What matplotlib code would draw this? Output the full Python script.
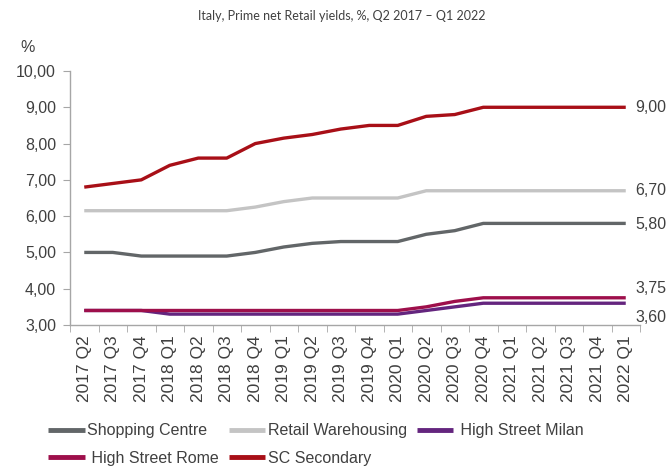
import matplotlib
matplotlib.use("Agg")
import matplotlib.pyplot as plt
from matplotlib.ticker import FuncFormatter, FixedLocator, NullFormatter

quarters = ["2017 Q2", "2017 Q3", "2017 Q4", "2018 Q1", "2018 Q2", "2018 Q3", "2018 Q4",
            "2019 Q1", "2019 Q2", "2019 Q3", "2019 Q4", "2020 Q1", "2020 Q2", "2020 Q3",
            "2020 Q4", "2021 Q1", "2021 Q2", "2021 Q3", "2021 Q4", "2022 Q1"]

shopping_centre = [5.0, 5.0, 4.9, 4.9, 4.9, 4.9, 5.0, 5.15, 5.25, 5.3, 5.3, 5.3, 5.5, 5.6,
                   5.8, 5.8, 5.8, 5.8, 5.8, 5.8]
retail_warehousing = [6.15, 6.15, 6.15, 6.15, 6.15, 6.15, 6.25, 6.4, 6.5, 6.5, 6.5, 6.5, 6.7, 6.7,
                      6.7, 6.7, 6.7, 6.7, 6.7, 6.7]
high_street_milan = [3.4, 3.4, 3.4, 3.3, 3.3, 3.3, 3.3, 3.3, 3.3, 3.3, 3.3, 3.3, 3.4, 3.5,
                     3.6, 3.6, 3.6, 3.6, 3.6, 3.6]
high_street_rome = [3.4, 3.4, 3.4, 3.4, 3.4, 3.4, 3.4, 3.4, 3.4, 3.4, 3.4, 3.4, 3.5, 3.65,
                    3.75, 3.75, 3.75, 3.75, 3.75, 3.75]
sc_secondary = [6.8, 6.9, 7.0, 7.4, 7.6, 7.6, 8.0, 8.15, 8.25, 8.4, 8.5, 8.5, 8.75, 8.8,
                9.0, 9.0, 9.0, 9.0, 9.0, 9.0]

series = [
    ("Shopping Centre", shopping_centre, "#626668"),
    ("Retail Warehousing", retail_warehousing, "#c4c4c4"),
    ("High Street Milan", high_street_milan, "#64257e"),
    ("High Street Rome", high_street_rome, "#9e0f4b"),
    ("SC Secondary", sc_secondary, "#a80f17"),
]
# legend label text as shown (some have a leading space in the original)
legend_text = {"Shopping Centre": "Shopping Centre", "Retail Warehousing": "Retail Warehousing",
               "High Street Milan": " High Street Milan", "High Street Rome": " High Street Rome",
               "SC Secondary": "SC Secondary"}
# end-label vertical offsets (points)
end_offsets = {"SC Secondary": 0, "Retail Warehousing": 0, "Shopping Centre": -1,
               "High Street Rome": 7, "High Street Milan": -10}

plt.rcParams['font.family'] = ['Liberation Sans', 'DejaVu Sans']
text_col = "#404040"

fig = plt.figure(figsize=(6.69, 4.68), dpi=100)
ax = fig.add_axes([70/669, 1-325/468, 570/669, 254/468])

x = list(range(len(quarters)))
handles = {}
for name, vals, col in series:
    h, = ax.plot(x, vals, color=col, lw=2.4, solid_capstyle='butt', label=name)
    handles[name] = h
    ax.annotate(f"{vals[-1]:.2f}".replace(".", ","), xy=(x[-1], vals[-1]),
                xytext=(7, end_offsets[name]), textcoords="offset points",
                ha="left", va="center", fontsize=11.5, color=text_col,
                annotation_clip=False)

ax.set_xlim(-0.5, len(quarters) - 0.5)
ax.set_ylim(3, 10)
ax.set_yticks([3, 4, 5, 6, 7, 8, 9, 10])
ax.yaxis.set_major_formatter(FuncFormatter(lambda v, p: f"{v:.2f}".replace(".", ",")))
ax.set_xticks(x)
ax.set_xticklabels(quarters, rotation=90, fontsize=12.5, color=text_col)
ax.tick_params(axis='x', which='major', length=0, pad=7.5)
ax.xaxis.set_minor_locator(FixedLocator([i - 0.5 for i in range(len(quarters) + 1)]))
ax.xaxis.set_minor_formatter(NullFormatter())
ax.tick_params(axis='x', which='minor', length=5, color="#a6a6a6", direction='out')
ax.tick_params(axis='y', length=5, color="#a6a6a6", labelsize=11.5, labelcolor=text_col, pad=5)
for s in ["top", "right"]:
    ax.spines[s].set_visible(False)
for s in ["left", "bottom"]:
    ax.spines[s].set_color("#a6a6a6")
    ax.spines[s].set_linewidth(1.0)

fig.text(20/669, 1-47/468, "%", fontsize=11.5, color=text_col, ha="left", va="center")
fig.text(342/669, 1-16/468, "Italy, Prime net Retail yields, %, Q2 2017 \u2013 Q1 2022",
         fontsize=9, color=text_col, ha="center", va="center", family=["Lato", "DejaVu Sans"])

order = ["Shopping Centre", "High Street Rome", "Retail Warehousing", "SC Secondary", "High Street Milan"]
leg = fig.legend([handles[n] for n in order], [legend_text[n] for n in order], ncol=3,
                 loc="upper left", bbox_to_anchor=(45/669, 1-420/468), frameon=False,
                 fontsize=11.5, handlelength=2.3, handletextpad=0.15, columnspacing=0.6,
                 labelspacing=0.8, borderaxespad=0, borderpad=0.2)
for t in leg.get_texts():
    t.set_color(text_col)
for l in leg.get_lines():
    l.set_linewidth(3.5)

fig.savefig("out.png", dpi=100)
